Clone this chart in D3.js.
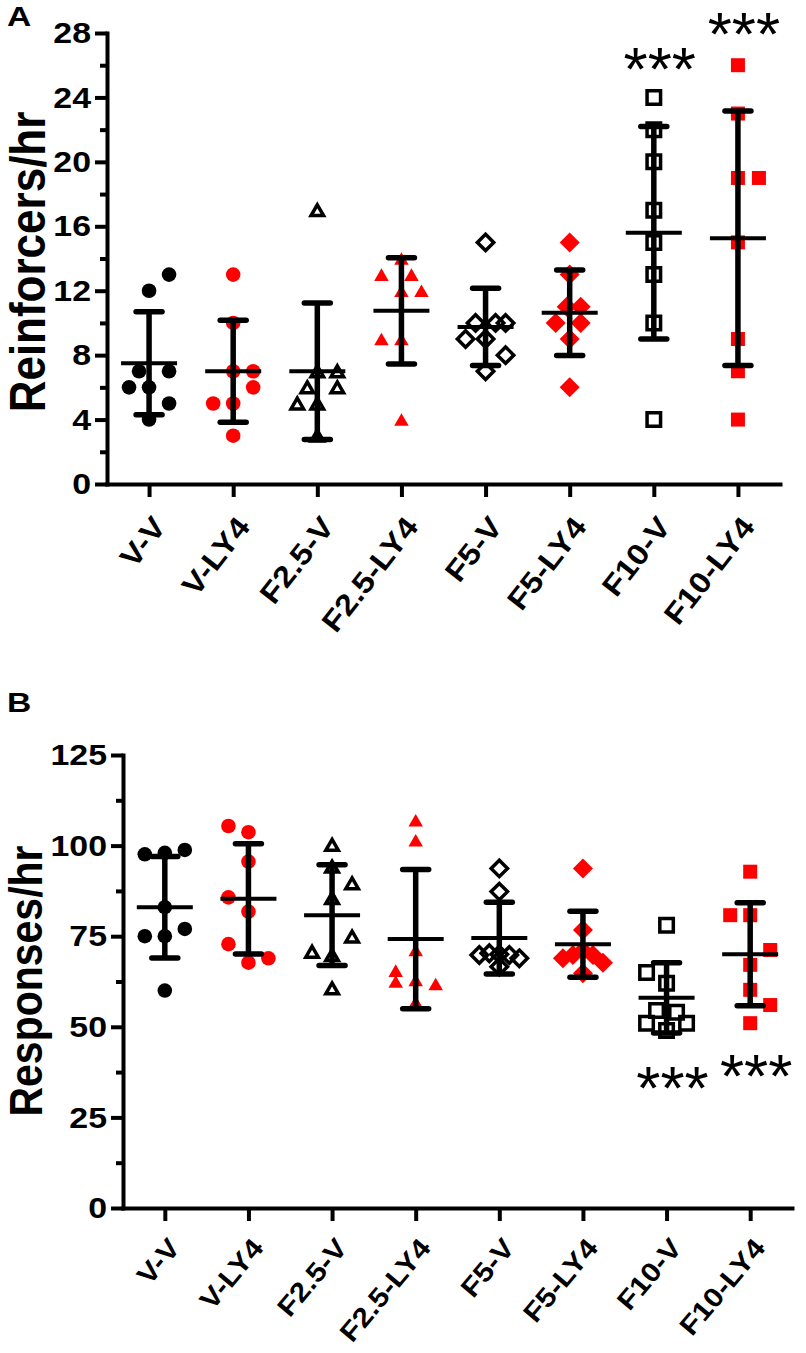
<!DOCTYPE html>
<html><head><meta charset="utf-8">
<script src="https://cdn.jsdelivr.net/npm/d3@7"></script>
<style>body{margin:0;background:#fff}</style>
</head><body>
<script>
// ---------- DATA ----------
const categories = ["V-V","V-LY4","F2.5-V","F2.5-LY4","F5-V","F5-LY4","F10-V","F10-LY4"];

// Panel A: Reinforcers/hr (individual subjects)
const reinforcers = [
  [13,12,7,7,6,6,5,4],
  [13,10,7,7,6,5,5,3],
  [17,7,7,6,6,5,5,3],
  [14,13,13,12,12,9,9,4],
  [15,10,10,10,9,9,8,7],
  [15,13,11,11,10,10,9,6],
  [24,22,20,17,15,13,10,4],
  [26,23,19,19,15,9,7,4]
];
// horizontal scatter slot of each point (symbol slots left/right of centre)
const reinforcersSlot = [
  [2,0,-1,2,-2,0,2,0],
  [0,0,0,2,2,-2,0,0],
  [0,0,2,-1,2,-2,0,0],
  [0,-2,1,0,2,-2,0,0],
  [0,-1,1,2,-2,0,2,0],
  [0,0,-0.3,1.1,-1.4,1.1,0,0],
  [0,0,0,0,0,0,0,0],
  [0,0,0,2.1,0,0,0,0]
];
const reinforcersMean = [7.5,7.0,7.0,10.75,9.75,10.63,15.6,15.25];
const reinforcersSD   = [3.2,3.16,4.24,3.3,2.4,2.65,6.6,7.9];

// Panel B: Responses/hr
const responses = [
  [97.6,98,98.8,83,75,75,77,60],
  [105.4,103.7,95.6,85.7,81.8,72.8,67.7,68.9],
  [100.2,94.2,89.6,85.5,74.9,70.7,69.8,60.6],
  [107,101.5,71.2,65.5,62.5,62.9,61.8,56.9],
  [93.7,87.3,69.8,70.3,70,69.8,68.9,66.6],
  [93.7,76.7,68.9,69.8,69.8,67.7,64.8,71],
  [78,65,62,54.5,54,51,51,49],
  [92.8,80.8,80.8,71.2,67.1,60.2,56,51]
];
const responsesSlot = [
  [-2,0,2,0,-2,0,2,0],
  [-2,0,0,-2,0,-2,0,2],
  [0,0,2,0,2,-2,0,0],
  [0,0,0,-2,-2,0,2,0],
  [0,0,-2,-1,0,1,2,0],
  [0,0,-2,-1,1,2,0,0],
  [0,-2,0,-1,1,-2,2,0],
  [0,-2,0,2,0,0,2,0]
];
const responsesMean = [83.0,85.3,80.8,74.2,74.5,72.8,58.0,70.0];
const responsesSD   = [14.0,15.2,13.9,19.2,9.9,9.1,9.7,14.2];

const ticksA = [0,4,8,12,16,20,24,28];
const minorTicksA = [2,6,10,14,18,22,26];
const ticksB = [0,25,50,75,100,125];
const minorTicksB = [12.5,37.5,62.5,87.5,112.5];

const starsA = [{cat:"F10-V", value:26.3},{cat:"F10-LY4", value:28.5}];
const starsB = [{cat:"F10-V", value:35.6},{cat:"F10-LY4", value:38.9}];

// ---------- STYLE ----------
const RED = "#ff0000";
const markerShape = ["circle","circle","triangle","triangle","diamond","diamond","square","square"];
const markerFill  = ["#000",RED,"none",RED,"none",RED,"none",RED];
const markerStroke= ["none","none","#000","none","#000","none","#000","none"];
const FONT = "'Liberation Sans', Arial, Helvetica, sans-serif";
const WIDEN = 1.13;   // glyphs in the original are set wide

function shapePath(shape, open){
  if(shape==="circle"){ return d3.symbol(d3.symbolCircle, Math.PI*7.3*7.3)(); }
  if(shape==="square"){ const a = open?13.5:14, h=a/2; return `M${-h},${-h}h${a}v${a}h${-a}Z`; }
  if(shape==="diamond"){ const h = open?8.2:10; return `M0,${-h}L${h},0L0,${h}L${-h},0Z`; }
  if(shape==="triangle"){ const a = open?12.5:14.5, t=a*Math.sqrt(3)/2; return `M0,${-t/2}L${a/2},${t/2}L${-a/2},${t/2}Z`; }
}

const svg = d3.select("body").append("svg").attr("width",806).attr("height",1353)
  .style("font-family",FONT);

function panel(cfg){
  const x = d3.scalePoint().domain(categories).range(cfg.xRange).padding(0.5);
  const y = d3.scaleLinear().domain(cfg.yDomain).range(cfg.yRange);
  const g = svg.append("g");
  const x0 = cfg.xRange[0];

  // points
  categories.forEach((c,i)=>{
    const open = markerFill[i]==="none";
    const p = shapePath(markerShape[i], open);
    g.append("g").selectAll("path").data(cfg.values[i]).join("path")
      .attr("d",p)
      .attr("transform",(v,j)=>`translate(${x(c)+cfg.slot[i][j]*10},${y(v)})`)
      .attr("fill",markerFill[i])
      .attr("stroke",markerStroke[i])
      .attr("stroke-width",open?3.5:0)
      .attr("stroke-linejoin","miter");
  });

  // error bars
  const eb = g.append("g").attr("stroke","#000");
  categories.forEach((c,i)=>{
    const m = cfg.mean[i], s = cfg.sd[i], cx = x(c);
    eb.append("line").attr("x1",cx).attr("x2",cx).attr("y1",y(m-s)).attr("y2",y(m+s)).attr("stroke-width",5.5);
    [m-s,m+s].forEach(v=>{
      eb.append("line").attr("x1",cx-13).attr("x2",cx+13).attr("y1",y(v)).attr("y2",y(v))
        .attr("stroke-width",5.5).attr("stroke-linecap","round");
    });
    eb.append("line").attr("x1",cx-28).attr("x2",cx+28).attr("y1",y(m)).attr("y2",y(m)).attr("stroke-width",4);
  });

  // y axis
  const ya = g.append("g").attr("transform",`translate(${x0},0)`)
    .call(d3.axisLeft(y).tickValues(cfg.ticks).tickSize(12).tickSizeOuter(0).tickPadding(5));
  const ym = g.append("g").attr("transform",`translate(${x0},0)`)
    .call(d3.axisLeft(y).tickValues(cfg.minor).tickSize(7).tickSizeOuter(0).tickFormat(""));
  ym.select(".domain").remove();
  [ya,ym].forEach(a=>{
    a.selectAll("line").attr("stroke","#000").attr("stroke-width",4);
    a.select(".domain").attr("stroke","#000").attr("stroke-width",4).attr("stroke-linecap","square");
  });
  ya.selectAll("text").attr("font-size",30).attr("font-weight","bold").attr("fill","#000")
    .style("font-family",FONT)
    .attr("x",0).attr("transform",`translate(-16,0) scale(${WIDEN},1)`);

  // x axis
  const xa = g.append("g").attr("transform",`translate(0,${cfg.yRange[0]})`)
    .call(d3.axisBottom(x).tickSize(13).tickSizeOuter(0));
  xa.selectAll("line").attr("stroke","#000").attr("stroke-width",4);
  xa.select(".domain").attr("stroke","#000").attr("stroke-width",4).attr("stroke-linecap","square");
  xa.selectAll("text")
    .attr("font-size",cfg.labelSize).attr("font-weight","bold").attr("fill","#000").style("font-family",FONT)
    .attr("text-anchor","end")
    .attr("x",0).attr("y",0).attr("dy","0.72em")
    .attr("transform",`translate(1,${cfg.labelY}) rotate(${cfg.labelAngle}) scale(${WIDEN},1)`);

  // y title
  g.append("text").attr("transform",`translate(${cfg.titleX},${cfg.titleY}) rotate(-90) scale(1,1.12)`)
    .attr("text-anchor","middle").attr("font-size",cfg.titleSize).attr("font-weight","bold")
    .text(cfg.title);

  // panel letter
  g.append("text").attr("transform",`translate(${cfg.letterX},${cfg.letterY}) scale(1.2,1)`)
    .attr("font-size",28).attr("font-weight","bold").text(cfg.letter);

  // significance stars
  g.selectAll("text.star").data(cfg.stars).join("text").attr("class","star")
    .attr("x",d=>x(d.cat)+6).attr("y",d=>y(d.value)+30)
    .attr("text-anchor","middle").attr("font-size",62).attr("font-weight","normal")
    .text("***");
}

panel({xRange:[107,780], yDomain:[0,28], yRange:[484,33], values:reinforcers, slot:reinforcersSlot,
  mean:reinforcersMean, sd:reinforcersSD, ticks:ticksA, minor:minorTicksA,
  labelY:30, labelSize:29.5, labelAngle:-52,
  title:"Reinforcers/hr", titleSize:44, titleX:45, titleY:262, letter:"A", letterX:7, letterY:26, stars:starsA});

panel({xRange:[123,792], yDomain:[0,125], yRange:[1208,755], values:responses, slot:responsesSlot,
  mean:responsesMean, sd:responsesSD, ticks:ticksB, minor:minorTicksB,
  labelY:28, labelSize:27, labelAngle:-50,
  title:"Responses/hr", titleSize:41, titleX:42, titleY:981, letter:"B", letterX:7, letterY:712, stars:starsB});
</script>
</body></html>
